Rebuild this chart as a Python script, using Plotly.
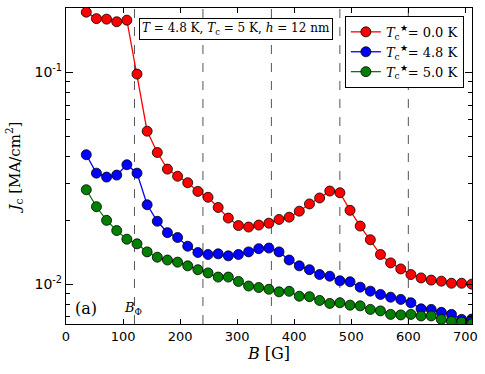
import plotly.graph_objects as go

# field values B [G]: 39 points, spacing about 17.78 G
b_step = 17.78
B = [round(b_step * k, 2) for k in range(2, 41)]

jc_00 = [0.192, 0.179, 0.178, 0.173, 0.176, 0.098, 0.0527, 0.0418, 0.0349, 0.0323,
         0.0301, 0.0274, 0.0257, 0.0230, 0.0205, 0.0189, 0.0186, 0.0190, 0.0194, 0.0202,
         0.0207, 0.0221, 0.0239, 0.0255, 0.0275, 0.0270, 0.0223, 0.0188, 0.0162, 0.0138,
         0.0126, 0.0118, 0.0111, 0.0107, 0.01045, 0.01033, 0.0101, 0.0101, 0.0100]
jc_48 = [0.0408, 0.0334, 0.0320, 0.0327, 0.0366, 0.0334, 0.0237, 0.0198, 0.0175, 0.0166,
         0.0151, 0.0141, 0.0138, 0.0139, 0.0136, 0.0138, 0.0142, 0.0147, 0.0148, 0.0142,
         0.0130, 0.0122, 0.0117, 0.0111, 0.0109, 0.01037, 0.01026, 0.00968, 0.00927, 0.00894,
         0.00868, 0.00847, 0.00817, 0.00765, 0.00760, 0.00736, 0.00720, 0.00682, 0.00684]
jc_50 = [0.0279, 0.0232, 0.0200, 0.0179, 0.0163, 0.0155, 0.0142, 0.0134, 0.0130, 0.0127,
         0.0122, 0.0117, 0.0113, 0.0108, 0.0108, 0.0103, 0.0098, 0.00964, 0.00946, 0.00920,
         0.00925, 0.00877, 0.00873, 0.00838, 0.00811, 0.00817, 0.00796, 0.00790, 0.00760, 0.00748,
         0.00720, 0.00716, 0.00720, 0.00708, 0.00708, 0.00682, 0.00668, 0.00662, 0.00650]

series = [
    ("0.0", jc_00, "#ff0000"),
    ("4.8", jc_48, "#0000ff"),
    ("5.0", jc_50, "#007f00"),
]

matching_fields = [120, 240, 360, 480, 600]

serif = "DejaVu Serif"
sans = "DejaVu Sans"

fig = go.Figure()

for label, vals, col in series:
    fig.add_trace(go.Scatter(
        x=B, y=vals, mode="lines+markers",
        name=f"<i>T</i><sub>c</sub><sup>\u2605</sup>= {label} K",
        line=dict(color=col, width=1.3),
        marker=dict(color=col, size=10, line=dict(color="black", width=0.8)),
    ))

for bf in matching_fields:
    fig.add_vline(x=bf, line=dict(color="#555555", width=1, dash="dash"), layer="below")

minor_vals = [m * 10 ** e for e in (-3, -2, -1) for m in range(2, 10)]

fig.update_layout(
    width=485, height=374,
    margin=dict(l=66, r=10, t=7, b=50),
    plot_bgcolor="white", paper_bgcolor="white",
    showlegend=True,
    legend=dict(x=0.98, y=0.975, xanchor="right", yanchor="top",
                bgcolor="white", bordercolor="black", borderwidth=1,
                font=dict(family=serif, size=13, color="black"),
                itemwidth=30),
    xaxis=dict(
        range=[0, 711.6], tickvals=[0, 100, 200, 300, 400, 500, 600, 700],
        ticks="inside", ticklen=5, tickcolor="black",
        showline=True, linecolor="black", linewidth=1.2, mirror="allticks",
        showgrid=False, zeroline=False,
        tickfont=dict(family=sans, size=13, color="black"),
        title=dict(text="<i>B</i> [G]", font=dict(family=serif, size=16, color="black"),
                   standoff=4),
    ),
    yaxis=dict(
        type="log", range=[-2.188, -0.697],
        tickvals=[0.01, 0.1], ticktext=["10<sup>-2</sup>", "10<sup>-1</sup>"],
        ticks="inside", ticklen=7, tickcolor="black",
        minor=dict(tickvals=minor_vals, ticks="inside", ticklen=4, tickcolor="black"),
        showline=True, linecolor="black", linewidth=1.2, mirror="allticks",
        showgrid=False, zeroline=False,
        tickfont=dict(family=sans, size=14, color="black"),
        title=dict(text="<i>J</i><sub>c</sub> [MA/cm<sup>2</sup>]",
                   font=dict(family=serif, size=15, color="black"), standoff=10),
    ),
    annotations=[
        dict(text="<i>T</i> = 4.8 K, <i>T</i><sub>c</sub> = 5 K, <i>h</i> = 12 nm",
             xref="paper", yref="paper", x=0.418, y=0.968,
             xanchor="center", yanchor="top", showarrow=False,
             font=dict(family=serif, size=12, color="black"),
             bgcolor="white", bordercolor="black", borderwidth=1, borderpad=2),
        dict(text="(a)", xref="paper", yref="paper", x=0.049, y=0.05,
             xanchor="center", yanchor="middle", showarrow=False,
             font=dict(family=serif, size=16, color="black")),
        dict(text="<i>B</i><sub>\u03a6</sub>", xref="paper", yref="paper", x=0.166, y=0.05,
             xanchor="center", yanchor="middle", showarrow=False,
             font=dict(family=serif, size=13, color="black")),
    ],
)

# drop the default body margin so the 485x374 figure fills the window exactly
fig.write_html("out.html", config={"displayModeBar": False},
               post_script="document.body.style.margin = '0px';")
